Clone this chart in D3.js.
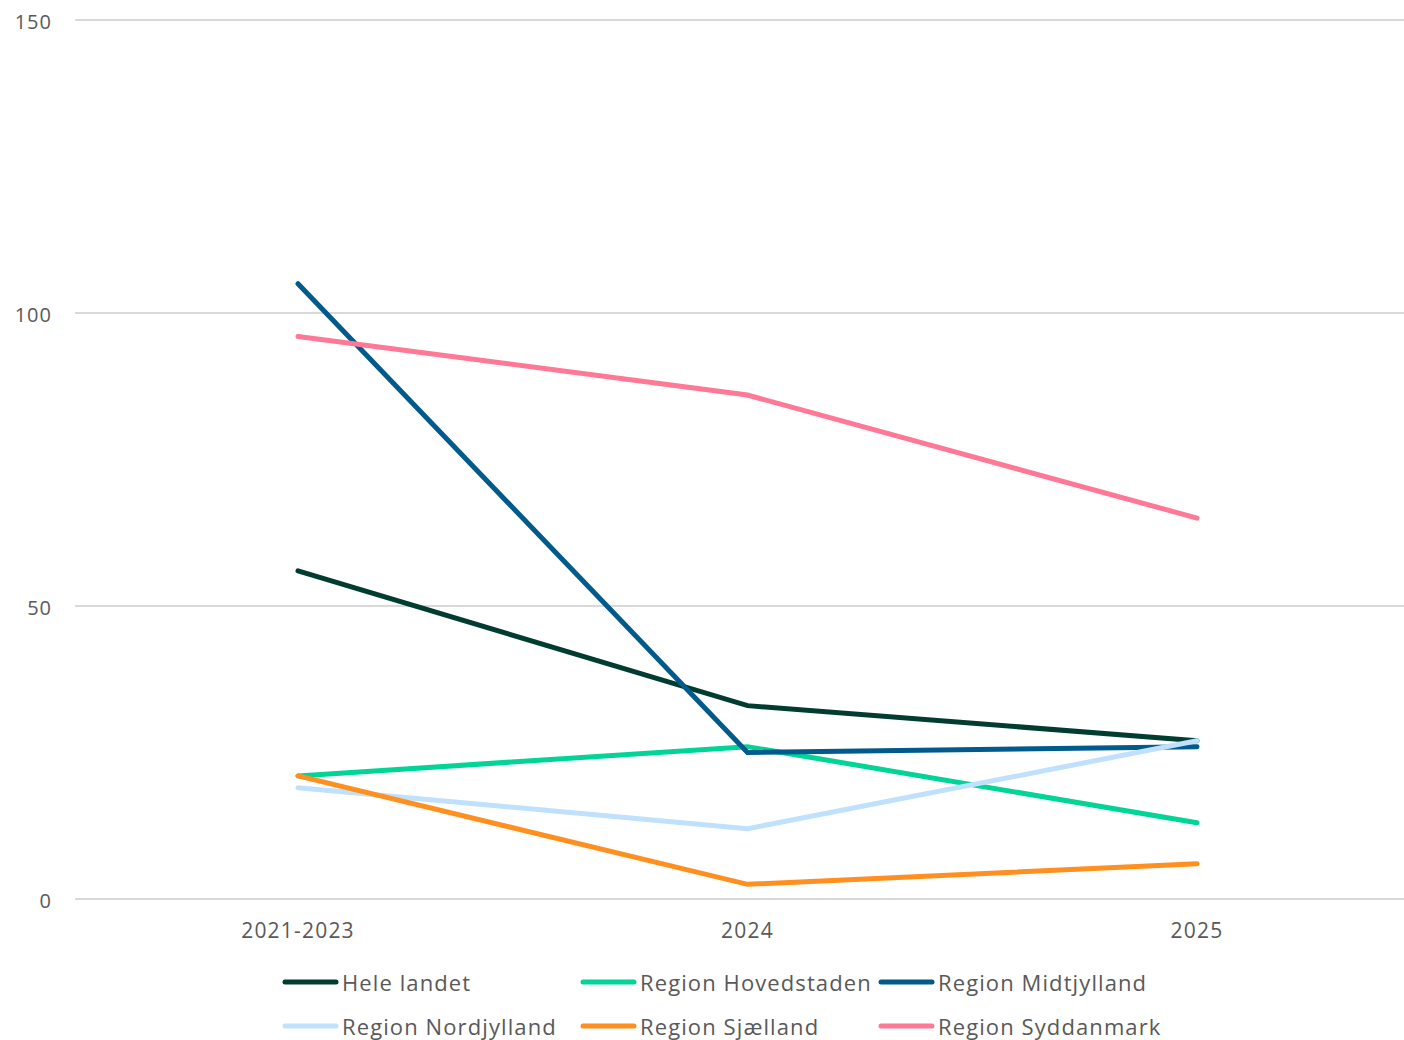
<!DOCTYPE html>
<html><head><meta charset="utf-8">
<script src="https://cdn.jsdelivr.net/npm/d3@7"></script>
<style>body{margin:0;background:#fff}svg{display:block}text{font-family:"Open Sans",sans-serif;fill:#595959}</style>
</head><body><svg id="c" width="1404" height="1040"></svg>
<script>
const categories = ["2021-2023","2024","2025"];
const seriesNames = ["Hele landet","Region Hovedstaden","Region Midtjylland","Region Nordjylland","Region Sjælland","Region Syddanmark"];
const heleLandet = [56,33,27];
const hovedstaden = [21,26,13];
const midtjylland = [105,25,26];
const nordjylland = [19,12,27];
const sjaelland = [21,2.5,6];
const syddanmark = [96,86,65];
const yTicks = [0,50,100,150];
const colors = ["#003d30","#00d497","#005a8c","#bfe1fd","#ff8f1f","#ff7896"];
const seriesValues = [heleLandet,hovedstaden,midtjylland,nordjylland,sjaelland,syddanmark];

const svg = d3.select("#c");
const y = d3.scaleLinear().domain([0,150]).range([899,20]);
const x = d3.scalePoint().domain(categories).range([298,1197]);

svg.append("g").selectAll("line").data(yTicks).join("line")
  .attr("x1",75).attr("x2",1404).attr("y1",d=>y(d)).attr("y2",d=>y(d))
  .attr("stroke","#d9d9d9").attr("stroke-width",2);
svg.append("g").selectAll("text").data(yTicks).join("text")
  .attr("x",52).attr("y",d=>y(d)+9).attr("text-anchor","end").attr("font-size",20)
  .attr("letter-spacing",1).text(d=>d);
svg.append("g").selectAll("text").data(categories).join("text")
  .attr("x",d=>x(d)).attr("y",938).attr("text-anchor","middle").attr("font-size",21)
  .attr("letter-spacing",1.2).text(d=>d);

const line = d3.line().x((d,i)=>x(categories[i])).y(d=>y(d));
seriesValues.forEach((vals,k)=>{
  svg.append("path").attr("d",line(vals)).attr("fill","none")
    .attr("stroke",colors[k]).attr("stroke-width",5)
    .attr("stroke-linejoin","miter").attr("stroke-linecap","round");
});

const lg = svg.append("g");
seriesNames.forEach((n,k)=>{
  const cx = 285 + (k%3)*298, cy = 982 + Math.floor(k/3)*44;
  lg.append("line").attr("x1",cx).attr("x2",cx+51).attr("y1",cy).attr("y2",cy)
    .attr("stroke",colors[k]).attr("stroke-width",5).attr("stroke-linecap","round");
  lg.append("text").attr("x",cx+57).attr("y",cy+8.5).attr("font-size",22)
    .attr("letter-spacing",1.1).text(n);
});
</script></body></html>
